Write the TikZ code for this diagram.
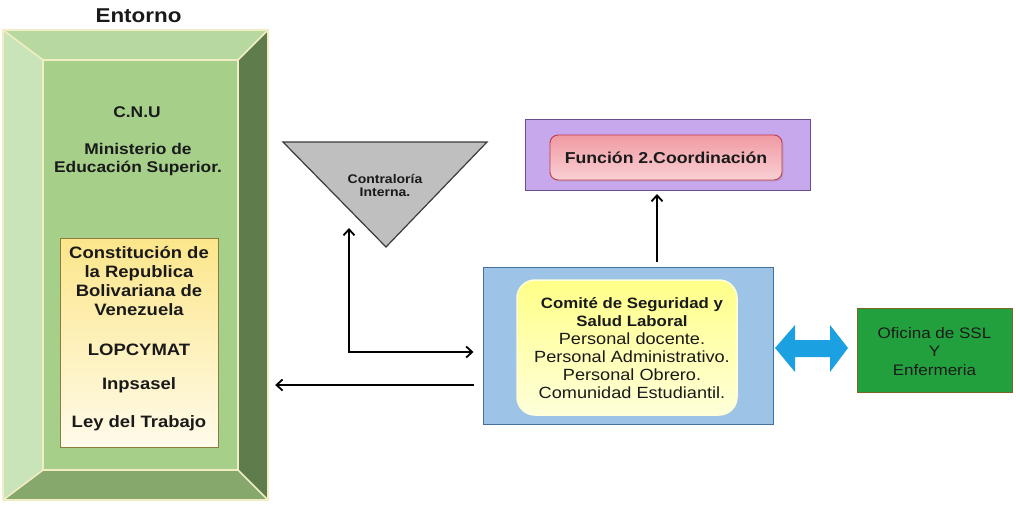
\documentclass[tikz,border=0pt]{standalone}
\usepackage{fontspec}
\setmainfont{Liberation Sans}[FakeStretch=1.12]
\usetikzlibrary{shadows,arrows.meta}

\definecolor{cream}{HTML}{F3EDC4}
\definecolor{bevTop}{HTML}{B7D9A0}
\definecolor{bevLeft}{HTML}{C8E4B8}
\definecolor{face}{HTML}{A6D08A}
\definecolor{bevRight}{HTML}{5F7D4C}
\definecolor{bevBot}{HTML}{86A86C}
\definecolor{lawTop}{HTML}{FCE68A}
\definecolor{lawBot}{HTML}{FFFBEA}
\definecolor{lawDraw}{HTML}{8C7B3C}
\definecolor{triFill}{HTML}{BFBFBF}
\definecolor{triDraw}{HTML}{3A3A3A}
\definecolor{purpFill}{HTML}{C8A8EC}
\definecolor{purpDraw}{HTML}{6B4C8C}
\definecolor{redTop}{HTML}{F09AA3}
\definecolor{redBot}{HTML}{F9D0D4}
\definecolor{redDraw}{HTML}{C0394B}
\definecolor{blueFill}{HTML}{9DC3E6}
\definecolor{blueDraw}{HTML}{41719C}
\definecolor{yelTop}{HTML}{FFFF88}
\definecolor{yelBot}{HTML}{FFFFDA}
\definecolor{cyanArrow}{HTML}{1BA1E2}
\definecolor{officeGreen}{HTML}{23A03E}
\definecolor{officeDraw}{HTML}{7A6528}
\definecolor{ink}{HTML}{1A1A1A}

\tikzset{
  txt/.style={inner sep=0pt, align=center, text=ink},
  bevel/.style={draw=cream, line width=1.6pt, line join=miter},
  tipv/.tip={Straight Barb[length=6pt,width=11pt,line width=1.8pt]},
  arr/.style={-tipv, line width=1.8pt, black},
  arrboth/.style={tipv-tipv, line width=1.8pt, black},
}

\begin{document}
\begin{tikzpicture}[x=1pt, y=-1pt]
\useasboundingbox[fill=white] (0,0) rectangle (1016,504);

% --- Entorno: bevelled frame ---
\node[txt, font=\bfseries\fontsize{20}{22}\selectfont] (title) at (138.5,16) {Entorno};
\node[minimum width=265pt, minimum height=470pt, inner sep=0pt] (outer) at (135.5,265) {};
\node[minimum width=195pt, minimum height=410pt, inner sep=0pt] (inner) at (140.5,265) {};

\fill[bevTop]   (outer.north west) -- (outer.north east) -- (inner.north east) -- (inner.north west) -- cycle;
\fill[bevLeft]  (outer.north west) -- (inner.north west) -- (inner.south west) -- (outer.south west) -- cycle;
\fill[bevRight] (outer.north east) -- (outer.south east) -- (inner.south east) -- (inner.north east) -- cycle;
\fill[bevBot]   (outer.south west) -- (inner.south west) -- (inner.south east) -- (outer.south east) -- cycle;
\fill[face] (inner.north west) rectangle (inner.south east);
\draw[bevel] (outer.north west) rectangle (outer.south east);
\draw[bevel] (inner.north west) rectangle (inner.south east);
\draw[bevel] (outer.north west) -- (inner.north west)
             (outer.north east) -- (inner.north east)
             (outer.south west) -- (inner.south west)
             (outer.south east) -- (inner.south east);

\node[txt, font=\bfseries\fontsize{15.5}{17}\selectfont] (cnu) at (137,112) {C.N.U};
\node[txt, font=\bfseries\fontsize{15.5}{18}\selectfont] (mes) at (138,159) {Ministerio de\\Educación Superior.};

\node[draw=lawDraw, line width=0.8pt, top color=lawTop, bottom color=lawBot,
      minimum width=158pt, minimum height=209pt, inner sep=0pt] (laws) at (139,342.5) {};
\node[txt, font=\bfseries\fontsize{16.5}{19}\selectfont] (crbv) at (139,281.5)
  {Constitución de\\la Republica\\Bolivariana de\\Venezuela};
\node[txt, font=\bfseries\fontsize{16.5}{19}\selectfont] (lop) at (139,350) {LOPCYMAT};
\node[txt, font=\bfseries\fontsize{16.5}{19}\selectfont] (inp) at (139,385) {Inpsasel};
\node[txt, font=\bfseries\fontsize{16.5}{19}\selectfont] (ley) at (139,423) {Ley del Trabajo};

% --- Contraloría ---
\coordinate (triL) at (283,142);
\coordinate (triR) at (487,142);
\coordinate (triB) at (386,247);
\filldraw[fill=triFill, draw=triDraw, line width=1.2pt, line join=miter] (triL) -- (triR) -- (triB) -- cycle;
\node[txt, font=\bfseries\fontsize{12.5}{13}\selectfont] (contra) at (385,185) {Contraloría\\Interna.};

% --- Coordinación ---
\node[draw=purpDraw, line width=1pt, fill=purpFill, minimum width=285pt, minimum height=71pt, inner sep=0pt] (func) at (667.5,155) {};
\node[draw=redDraw, line width=0.9pt, rounded corners=8pt, top color=redTop, bottom color=redBot,
      drop shadow={shadow xshift=1.5pt, shadow yshift=-1.5pt, opacity=0.25},
      minimum width=232pt, minimum height=45pt, inner sep=0pt,
      font=\bfseries\fontsize{15.8}{18}\selectfont, text=ink] (coord) at (666,157.5) {Función 2.Coordinación};

% --- Comité ---
\node[draw=blueDraw, line width=1pt, fill=blueFill, minimum width=290pt, minimum height=157pt, inner sep=0pt] (cssl) at (628,345.5) {};
\node[rounded corners=18pt, top color=yelTop, bottom color=yelBot, draw=yelBot, line width=1.5pt,
      minimum width=220pt, minimum height=135pt, inner sep=0pt] (comite) at (627,347.5) {};
\node[txt, font=\fontsize{16.2}{18}\selectfont] (comtxt) at (632,348)
  {{\bfseries\fontsize{15}{18}\selectfont Comité de Seguridad y}\\
   {\bfseries\fontsize{15}{18}\selectfont Salud Laboral}\\
   Personal docente.\\Personal Administrativo.\\Personal Obrero.\\Comunidad Estudiantil.};

% --- Oficina ---
\node[draw=officeDraw, line width=1pt, fill=officeGreen, minimum width=155pt, minimum height=84pt, inner sep=0pt] (ofi) at (934.5,350) {};
\node[txt, font=\fontsize{15.2}{18.5}\selectfont] (ofitxt) at (934.5,351.5) {Oficina de SSL\\Y\\Enfermeria};

% two-way link between the committee and the office
\fill[cyanArrow] (775,348) -- (795,325) -- (795,340) -- (830,340) -- (830,325) -- (848,348)
  -- (830,372) -- (830,357) -- (795,357) -- (795,372) -- cycle;

% --- connectors ---
\coordinate (contraTip) at (349,228);
\coordinate (midrow) at (0,352);
\coordinate (lowrow) at (0,385);
\coordinate (upcol) at (657,0);
\draw[arrboth, shorten >=9pt] (contraTip) |- (cssl.west |- midrow);
\draw[arr, shorten <=9pt, shorten >=7pt] (cssl.west |- lowrow) -- (outer.east |- lowrow);
\draw[arr, shorten <=5pt, shorten >=3pt] (cssl.north -| upcol) -- (func.south -| upcol);
\end{tikzpicture}
\end{document}
